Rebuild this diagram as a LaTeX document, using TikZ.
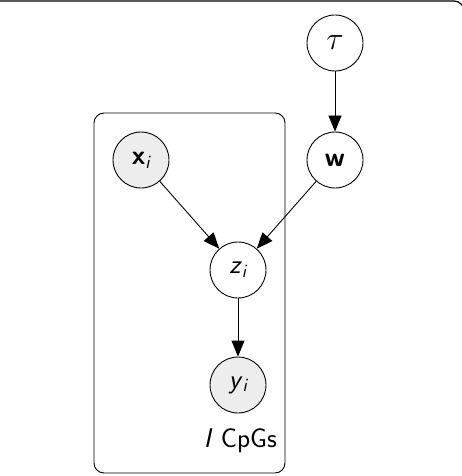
\documentclass[tikz,border=0pt]{standalone}
\usepackage{amsmath}
\usetikzlibrary{arrows.meta}
\tikzset{
  bigfont/.style={font=\fontsize{27}{32}\selectfont\sffamily},
  rv/.style={circle, draw, line width=0.9pt, minimum size=56pt, inner sep=0pt, bigfont},
  obs/.style={rv, fill=gray!14},
  edge/.style={line width=0.9pt, -{Triangle[length=16pt,width=13pt]}},
  plate/.style={draw, line width=0.9pt, rounded corners=10pt},
}
\begin{document}
\begin{tikzpicture}[x=1pt,y=-1pt]
\useasboundingbox (0,0) rectangle (462,476);
\begin{scope}
\clip (0,0) rectangle (462,476);
\draw[line width=1.2pt, rounded corners=10pt] (-5,1) -- (464,1) -- (464,40);
\end{scope}
\node[plate, minimum width=191pt, minimum height=360pt, inner sep=0pt] (plate) at (189.5,293) {};
\node[rv] (tau) at (335,43) {\scalebox{1.3}{$\tau$}};
\node[rv] (w) at (335,160) {\textbf{w}};
\node[obs] (x) at (141,160) {$\textbf{x}_{\textit{i}}$};
\node[rv] (z) at (238,270) {\textit{z}$_{\textit{i}}$};
\node[obs] (y) at (238,385) {\textit{y}$_{\textit{i}}$};
\node[anchor=base east, inner sep=0pt, bigfont] (lab) at (277,447) {\textit{I} CpGs};
\draw[edge] (tau) -- (w);
\draw[edge] (x) -- (z);
\draw[edge] (w) -- (z);
\draw[edge] (z) -- (y);
\end{tikzpicture}
\end{document}
